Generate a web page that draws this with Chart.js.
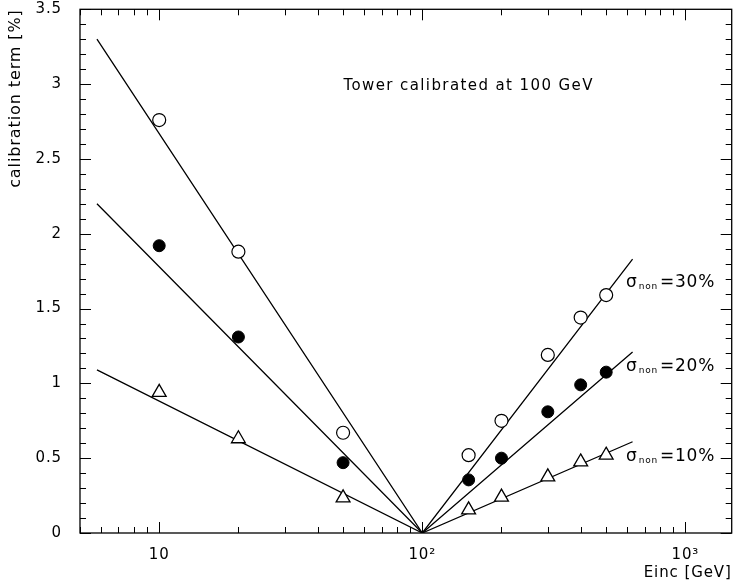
<!DOCTYPE html>
<html>
<head>
<meta charset="utf-8">
<script src="https://cdn.jsdelivr.net/npm/chart.js@4.4.1/dist/chart.umd.min.js"></script>
<style>
  html, body { margin: 0; padding: 0; background: #fff; }
  #wrap { width: 741px; height: 584px; }
</style>
</head>
<body>
<div id="wrap"><canvas id="c" width="741" height="584"></canvas></div>
<script>
// ---- data ----
const energies = [10, 20, 50, 150, 200, 300, 400, 500];
const sigma30 = [2.76, 1.88, 0.67, 0.52, 0.75, 1.19, 1.44, 1.59];
const sigma20 = [1.92, 1.31, 0.47, 0.355, 0.50, 0.81, 0.99, 1.075];
const sigma10 = [0.94, 0.63, 0.235, 0.155, 0.24, 0.375, 0.475, 0.52];

const fitE = [5.8, 100, 630];
const fit30 = [3.3, 0, 1.83];
const fit20 = [2.2, 0, 1.21];
const fit10 = [1.09, 0, 0.61];

const xMajorTicks = [10, 100, 1000];
const xTickLabels = ['10', '10\u00B2', '10\u00B3'];
const yTickLabels = ['0', '0.5', '1', '1.5', '2', '2.5', '3', '3.5'];

const labelTexts = ['=30%', '=20%', '=10%'];
const labelE = [595, 595, 595];
const labelY = [1.675, 1.115, 0.51];

const noteText = 'Tower calibrated at 100 GeV';
const noteE = 150;
const noteY = 2.99;

const FONT = '"DejaVu Sans", Verdana, sans-serif';

function pts(xs, ys) { return xs.map((x, i) => ({ x: x, y: ys[i] })); }

const lineDS = (ys) => ({
  type: 'line', data: pts(fitE, ys), borderColor: '#000', borderWidth: 1.3,
  pointRadius: 0, showLine: true, fill: false, tension: 0, order: 2
});

const spacingPlugin = {
  id: 'spacing',
  beforeDraw(chart) { chart.ctx.letterSpacing = '0.9px'; }
};

const framePlugin = {
  id: 'frame',
  afterDraw(chart) {
    const ctx = chart.ctx;
    const a = chart.chartArea;
    const xs = chart.scales.x, ys = chart.scales.y;
    ctx.save();
    ctx.strokeStyle = '#000';
    ctx.lineWidth = 1.3;
    ctx.strokeRect(a.left, a.top, a.right - a.left, a.bottom - a.top);
    ctx.lineWidth = 1;
    ctx.beginPath();
    for (let dec = 1; dec <= 1000; dec *= 10) {
      for (let m = 1; m <= 9; m++) {
        const v = dec * m;
        if (v < xs.min || v > xs.max) continue;
        const px = Math.round(xs.getPixelForValue(v)) + 0.5;
        const len = (m === 1) ? 11 : 6;
        ctx.moveTo(px, a.bottom); ctx.lineTo(px, a.bottom - len);
        ctx.moveTo(px, a.top); ctx.lineTo(px, a.top + len);
      }
    }
    for (let i = 0; i <= 35; i++) {
      const v = i / 10;
      const py = Math.round(ys.getPixelForValue(v)) + 0.5;
      const len = (i % 5 === 0) ? 11 : 6;
      ctx.moveTo(a.left, py); ctx.lineTo(a.left + len, py);
      ctx.moveTo(a.right, py); ctx.lineTo(a.right - len, py);
    }
    ctx.stroke();

    ctx.fillStyle = '#000';
    ctx.letterSpacing = '1.4px';
    ctx.font = '15px ' + FONT;
    ctx.textAlign = 'center';
    ctx.textBaseline = 'middle';
    ctx.fillText(noteText, xs.getPixelForValue(noteE), ys.getPixelForValue(noteY));

    ctx.textAlign = 'left';
    ctx.letterSpacing = '0.8px';
    labelTexts.forEach((t, i) => {
      let x = xs.getPixelForValue(labelE[i]);
      const y = ys.getPixelForValue(labelY[i]);
      ctx.font = '17px ' + FONT;
      ctx.textBaseline = 'middle';
      ctx.fillText('\u03C3', x, y);
      x += ctx.measureText('\u03C3').width + 1;
      ctx.font = '9px ' + FONT;
      ctx.fillText('non', x, y + 4);
      x += ctx.measureText('non').width + 2;
      ctx.font = '17px ' + FONT;
      ctx.fillText(t, x, y);
    });
    ctx.restore();
  }
};

new Chart(document.getElementById('c'), {
  type: 'scatter',
  data: {
    datasets: [
      lineDS(fit30), lineDS(fit20), lineDS(fit10),
      { data: pts(energies, sigma30), pointStyle: 'circle', pointRadius: 6.5,
        backgroundColor: '#fff', borderColor: '#000', borderWidth: 1.2, order: 1 },
      { data: pts(energies, sigma20), pointStyle: 'circle', pointRadius: 6,
        backgroundColor: '#000', borderColor: '#000', borderWidth: 1, order: 1 },
      { data: pts(energies, sigma10), pointStyle: 'triangle', pointRadius: 8,
        backgroundColor: '#fff', borderColor: '#000', borderWidth: 1.3, order: 1 }
    ]
  },
  options: {
    responsive: false,
    animation: false,
    layout: { padding: { top: 8, right: 8, left: 0, bottom: 0 } },
    plugins: { legend: { display: false }, tooltip: { enabled: false } },
    scales: {
      x: {
        type: 'logarithmic', min: 5, max: 1500,
        grid: { display: false, drawTicks: false },
        border: { display: false },
        afterFit(s) { s.height = 51; s.paddingLeft = 0; s.paddingRight = 0; },
        afterBuildTicks(s) { s.ticks = xMajorTicks.map(v => ({ value: v })); },
        ticks: {
          autoSkip: false, maxRotation: 0, padding: 13, color: '#000',
          font: { family: FONT, size: 15 },
          callback(v) { const i = xMajorTicks.indexOf(v); return i >= 0 ? xTickLabels[i] : ''; }
        },
        title: { display: true, text: 'Einc [GeV]', align: 'end', color: '#000',
          font: { family: FONT, size: 15 }, padding: { top: 0, bottom: 2 } }
      },
      y: {
        min: 0, max: 3.5,
        grid: { display: false, drawTicks: false },
        border: { display: false },
        afterFit(s) { s.width = 80; s.paddingTop = 0; s.paddingBottom = 0; },
        ticks: {
          stepSize: 0.5, padding: 18, color: '#000',
          font: { family: FONT, size: 15 },
          callback(v) { const i = Math.round(v * 2); return yTickLabels[i]; }
        },
        title: { display: true, text: 'calibration term [%]', align: 'end', color: '#000',
          font: { family: FONT, size: 16 }, padding: { top: 6, bottom: 0 } }
      }
    }
  },
  plugins: [spacingPlugin, framePlugin]
});
</script>
</body>
</html>
